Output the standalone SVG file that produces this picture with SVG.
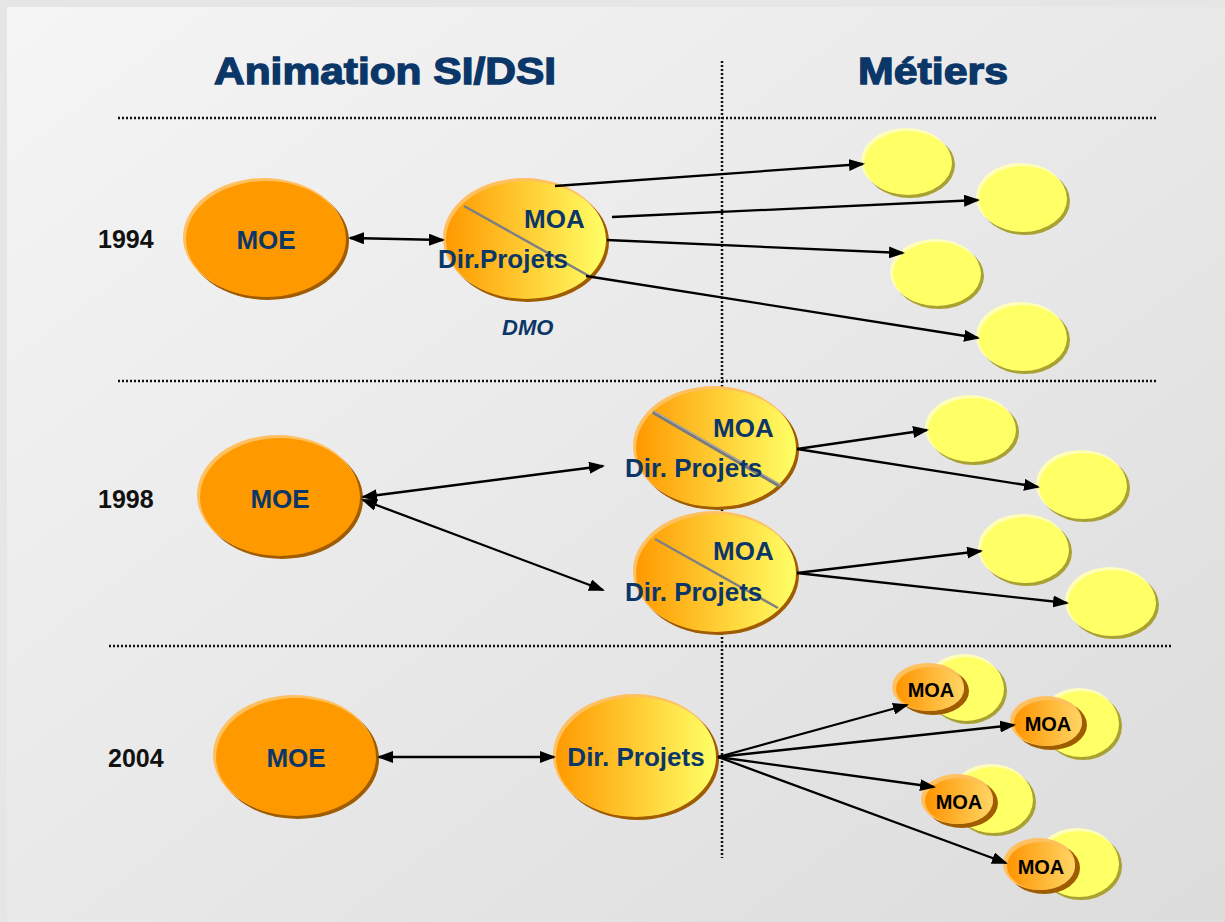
<svg xmlns="http://www.w3.org/2000/svg" width="1225" height="922" viewBox="0 0 1225 922">
  <defs>
    <linearGradient id="bg" x1="0" y1="0" x2="1" y2="1">
      <stop offset="0" stop-color="#f5f5f5"/>
      <stop offset="1" stop-color="#dcdcdc"/>
    </linearGradient>
    <linearGradient id="moa" x1="0" y1="0" x2="1" y2="0">
      <stop offset="0" stop-color="#ff9900"/>
      <stop offset="1" stop-color="#ffff66"/>
    </linearGradient>
    <linearGradient id="moaSmall" x1="0" y1="0" x2="1" y2="0">
      <stop offset="0" stop-color="#ff9400"/>
      <stop offset="1" stop-color="#ffd565"/>
    </linearGradient>
    <marker id="arr" viewBox="0 0 16 12" refX="14" refY="6" markerWidth="16" markerHeight="12" markerUnits="userSpaceOnUse" orient="auto-start-reverse">
      <path d="M0,0 L16,6 L0,12 z" fill="#000"/>
    </marker>
  </defs>
  <style>
    .t { font-family: "Liberation Sans", Arial, sans-serif; font-weight: bold; fill: #0b3768; }
    .title { font-size: 37px; stroke: #0b3768; stroke-width: 1.3; }
    .lbl { font-size: 26px; }
    .year { font-family: "Liberation Sans", Arial, sans-serif; font-weight: bold; font-size: 25px; fill: #111; }
    .small { font-family: "Liberation Sans", Arial, sans-serif; font-weight: bold; font-size: 20px; fill: #000; }
    .dot { stroke: #111; stroke-width: 2.5; stroke-dasharray: 2 2; fill: none; }
    .link { stroke: #000; stroke-width: 2.3; fill: none; }
    .sh-o { fill: #a05c00; }
    .hl-o { fill: #ffc060; }
    .sh-y { fill: #a9a232; }
    .hl-y { fill: #ffffb8; }
    .moe { fill: #ff9900; }
    .yel { fill: #ffff66; }
    .moa { fill: url(#moa); }
    .moas { fill: url(#moaSmall); }
    .diag { stroke: #808080; stroke-width: 2.5; }
  </style>

  <!-- panel background -->
  <rect x="0" y="0" width="1225" height="922" fill="#e6e6e6"/>
  <rect x="7" y="7" width="1218" height="915" fill="url(#bg)"/>

  <!-- column headings -->
  <text class="t title" x="214" y="84" textLength="342" lengthAdjust="spacingAndGlyphs">Animation SI/DSI</text>
  <text class="t title" x="858" y="84" textLength="150" lengthAdjust="spacingAndGlyphs">Métiers</text>

  <!-- separators -->
  <g id="grid">
    <line class="dot" x1="118" y1="118" x2="1157" y2="118"/>
    <line class="dot" x1="118" y1="381" x2="1157" y2="381"/>
    <line class="dot" x1="109" y1="646" x2="1173" y2="646"/>
    <line class="dot" x1="722" y1="61" x2="722" y2="858"/>
  </g>

  <!-- years -->
  <text class="year" x="98" y="248">1994</text>
  <text class="year" x="98" y="508">1998</text>
  <text class="year" x="108" y="767">2004</text>

  <!-- 1994 -->
  <g id="moe-1994">
    <ellipse class="sh-o" cx="268" cy="241" rx="81" ry="59"/>
    <ellipse class="hl-o" cx="264" cy="237" rx="81" ry="59"/>
    <ellipse class="moe" cx="266" cy="239" rx="80" ry="58"/>
    <text class="t lbl" x="266" y="249" text-anchor="middle">MOE</text>
  </g>
  <g id="moa-1994">
    <ellipse class="sh-o" cx="528" cy="242" rx="81" ry="60"/>
    <ellipse class="hl-o" cx="524" cy="238" rx="81" ry="60"/>
    <ellipse class="moa" cx="526" cy="240" rx="80" ry="59"/>
    <line class="diag" x1="464" y1="206" x2="589" y2="276"/>
    <text class="t lbl" x="524" y="228">MOA</text>
    <text class="t lbl" x="438" y="268">Dir.Projets</text>
    <text class="t" x="502" y="335" font-size="22" font-style="italic">DMO</text>
  </g>
  <g id="metier-1994-a">
    <ellipse class="sh-y" cx="910" cy="165" rx="45" ry="33"/>
    <ellipse class="hl-y" cx="906" cy="161" rx="45" ry="33"/>
    <ellipse class="yel" cx="908" cy="163" rx="44" ry="32"/>
  </g>
  <g id="metier-1994-b">
    <ellipse class="sh-y" cx="1025" cy="201" rx="45" ry="34"/>
    <ellipse class="hl-y" cx="1021" cy="197" rx="45" ry="34"/>
    <ellipse class="yel" cx="1023" cy="199" rx="44" ry="33"/>
  </g>
  <g id="metier-1994-c">
    <ellipse class="sh-y" cx="939" cy="276" rx="45" ry="33"/>
    <ellipse class="hl-y" cx="935" cy="272" rx="45" ry="33"/>
    <ellipse class="yel" cx="937" cy="274" rx="44" ry="32"/>
  </g>
  <g id="metier-1994-d">
    <ellipse class="sh-y" cx="1025" cy="340" rx="45" ry="34"/>
    <ellipse class="hl-y" cx="1021" cy="336" rx="45" ry="34"/>
    <ellipse class="yel" cx="1023" cy="338" rx="44" ry="33"/>
  </g>

  <!-- 1998 -->
  <g id="moe-1998">
    <ellipse class="sh-o" cx="282" cy="499" rx="81" ry="60"/>
    <ellipse class="hl-o" cx="278" cy="495" rx="81" ry="60"/>
    <ellipse class="moe" cx="280" cy="497" rx="80" ry="59"/>
    <text class="t lbl" x="280" y="508" text-anchor="middle">MOE</text>
  </g>
  <g id="moa-1998-a">
    <ellipse class="sh-o" cx="718" cy="450" rx="81" ry="60"/>
    <ellipse class="hl-o" cx="714" cy="446" rx="81" ry="60"/>
    <ellipse class="moa" cx="716" cy="448" rx="80" ry="59"/>
    <line x1="653" y1="412" x2="780" y2="486" stroke="#7a7a7a" stroke-width="4"/>
    <line x1="654" y1="411" x2="781" y2="485" stroke="#b4b4b4" stroke-width="1.2"/>
    <text class="t lbl" x="713" y="437">MOA</text>
    <text class="t lbl" x="625" y="477">Dir. Projets</text>
  </g>
  <g id="moa-1998-b">
    <ellipse class="sh-o" cx="718" cy="575" rx="81" ry="60"/>
    <ellipse class="hl-o" cx="714" cy="571" rx="81" ry="60"/>
    <ellipse class="moa" cx="716" cy="573" rx="80" ry="59"/>
    <line class="diag" x1="655" y1="539" x2="778" y2="608"/>
    <text class="t lbl" x="713" y="560">MOA</text>
    <text class="t lbl" x="625" y="601">Dir. Projets</text>
  </g>
  <g id="metier-1998-a">
    <ellipse class="sh-y" cx="974" cy="432" rx="45" ry="33"/>
    <ellipse class="hl-y" cx="970" cy="428" rx="45" ry="33"/>
    <ellipse class="yel" cx="972" cy="430" rx="44" ry="32"/>
  </g>
  <g id="metier-1998-b">
    <ellipse class="sh-y" cx="1085" cy="488" rx="45" ry="34"/>
    <ellipse class="hl-y" cx="1081" cy="484" rx="45" ry="34"/>
    <ellipse class="yel" cx="1083" cy="486" rx="44" ry="33"/>
  </g>
  <g id="metier-1998-c">
    <ellipse class="sh-y" cx="1027" cy="552" rx="45" ry="34"/>
    <ellipse class="hl-y" cx="1023" cy="548" rx="45" ry="34"/>
    <ellipse class="yel" cx="1025" cy="550" rx="44" ry="33"/>
  </g>
  <g id="metier-1998-d">
    <ellipse class="sh-y" cx="1114" cy="605" rx="45" ry="34"/>
    <ellipse class="hl-y" cx="1110" cy="601" rx="45" ry="34"/>
    <ellipse class="yel" cx="1112" cy="603" rx="44" ry="33"/>
  </g>

  <!-- 2004 -->
  <g id="moe-2004">
    <ellipse class="sh-o" cx="298" cy="759" rx="81" ry="60"/>
    <ellipse class="hl-o" cx="294" cy="755" rx="81" ry="60"/>
    <ellipse class="moe" cx="296" cy="757" rx="80" ry="59"/>
    <text class="t lbl" x="296" y="767" text-anchor="middle">MOE</text>
  </g>
  <g id="dir-2004">
    <ellipse class="sh-o" cx="638" cy="759" rx="81" ry="61"/>
    <ellipse class="hl-o" cx="634" cy="755" rx="81" ry="61"/>
    <ellipse class="moa" cx="636" cy="757" rx="80" ry="60"/>
    <text class="t lbl" x="636" y="766" text-anchor="middle">Dir. Projets</text>
  </g>
  <g id="metier-2004-a">
    <ellipse class="sh-y" cx="968" cy="691" rx="39" ry="33"/>
    <ellipse class="hl-y" cx="964" cy="687" rx="39" ry="33"/>
    <ellipse class="yel" cx="966" cy="689" rx="38" ry="32"/>
    <ellipse class="sh-o" cx="933" cy="691" rx="36" ry="24"/>
    <ellipse class="hl-o" cx="928" cy="687" rx="36" ry="24"/>
    <ellipse class="moas" cx="930" cy="689" rx="34" ry="22"/>
    <text class="small" x="931" y="697" text-anchor="middle">MOA</text>
  </g>
  <g id="metier-2004-b">
    <ellipse class="sh-y" cx="1083" cy="726" rx="39" ry="34"/>
    <ellipse class="hl-y" cx="1079" cy="722" rx="39" ry="34"/>
    <ellipse class="yel" cx="1081" cy="724" rx="38" ry="33"/>
    <ellipse class="sh-o" cx="1051" cy="725" rx="36" ry="25"/>
    <ellipse class="hl-o" cx="1046" cy="721" rx="36" ry="25"/>
    <ellipse class="moas" cx="1048" cy="723" rx="34" ry="23"/>
    <text class="small" x="1048" y="731" text-anchor="middle">MOA</text>
  </g>
  <g id="metier-2004-c">
    <ellipse class="sh-y" cx="995" cy="802" rx="41" ry="34"/>
    <ellipse class="hl-y" cx="991" cy="798" rx="41" ry="34"/>
    <ellipse class="yel" cx="993" cy="800" rx="40" ry="33"/>
    <ellipse class="sh-o" cx="962" cy="803" rx="36" ry="25"/>
    <ellipse class="hl-o" cx="957" cy="799" rx="36" ry="25"/>
    <ellipse class="moas" cx="959" cy="801" rx="34" ry="23"/>
    <text class="small" x="959" y="809" text-anchor="middle">MOA</text>
  </g>
  <g id="metier-2004-d">
    <ellipse class="sh-y" cx="1081" cy="866" rx="41" ry="34"/>
    <ellipse class="hl-y" cx="1077" cy="862" rx="41" ry="34"/>
    <ellipse class="yel" cx="1079" cy="864" rx="40" ry="33"/>
    <ellipse class="sh-o" cx="1044" cy="868" rx="36" ry="26"/>
    <ellipse class="hl-o" cx="1039" cy="864" rx="36" ry="26"/>
    <ellipse class="moas" cx="1041" cy="866" rx="34" ry="24"/>
    <text class="small" x="1041" y="874" text-anchor="middle">MOA</text>
  </g>

  <!-- connectors -->
  <g id="connectors">
    <!-- 1994 -->
    <line class="link" x1="350" y1="238" x2="443" y2="240" marker-start="url(#arr)" marker-end="url(#arr)"/>
    <line class="link" x1="555" y1="186" x2="863" y2="164" marker-end="url(#arr)"/>
    <line class="link" x1="612" y1="217" x2="978" y2="200" marker-end="url(#arr)"/>
    <line class="link" x1="607" y1="240" x2="903" y2="253" marker-end="url(#arr)"/>
    <line class="link" x1="586" y1="276" x2="978" y2="338" marker-end="url(#arr)"/>
    <!-- 1998 -->
    <line class="link" x1="363" y1="497" x2="603" y2="466" marker-start="url(#arr)" marker-end="url(#arr)"/>
    <line class="link" x1="363" y1="500" x2="603" y2="590" marker-start="url(#arr)" marker-end="url(#arr)"/>
    <line class="link" x1="797" y1="449" x2="927" y2="430" marker-end="url(#arr)"/>
    <line class="link" x1="797" y1="449" x2="1038" y2="487" marker-end="url(#arr)"/>
    <line class="link" x1="797" y1="573" x2="981" y2="551" marker-end="url(#arr)"/>
    <line class="link" x1="797" y1="573" x2="1067" y2="603" marker-end="url(#arr)"/>
    <!-- 2004 -->
    <line class="link" x1="379" y1="757" x2="554" y2="757" marker-start="url(#arr)" marker-end="url(#arr)"/>
    <line class="link" x1="718" y1="757" x2="907" y2="705" marker-end="url(#arr)"/>
    <line class="link" x1="718" y1="757" x2="1014" y2="725" marker-end="url(#arr)"/>
    <line class="link" x1="718" y1="757" x2="934" y2="787" marker-end="url(#arr)"/>
    <line class="link" x1="718" y1="757" x2="1006" y2="863" marker-end="url(#arr)"/>
  </g>
</svg>
